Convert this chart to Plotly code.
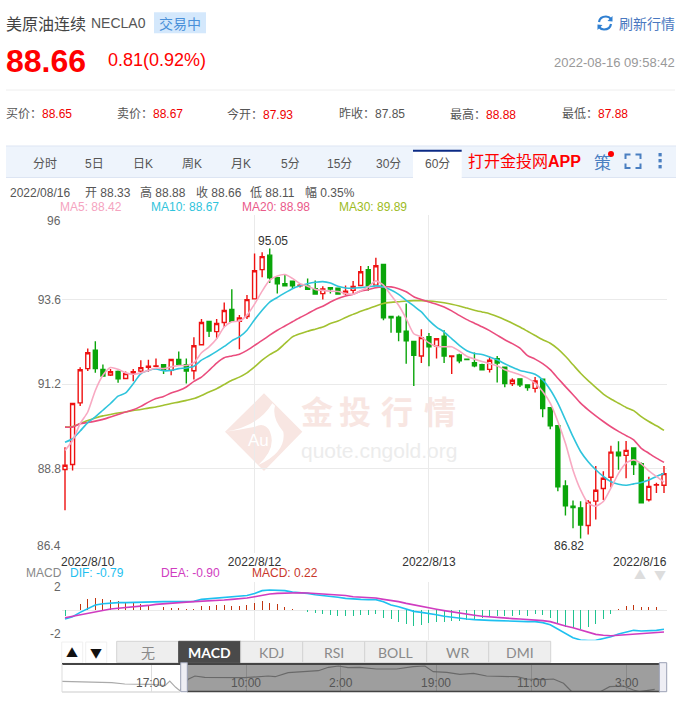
import re
import plotly.graph_objects as go

W, H = 683, 703
# ---------- data ----------
bar_index = list(range(80))
open_ = [88.78,88.92,90.67,91.64,92.16,91.62,91.46,91.56,91.36,91.51,91.57,91.68,91.71,91.75,91.59,91.90,91.75,91.58,92.32,92.98,
         92.69,92.95,93.32,92.98,93.12,93.62,94.45,94.86,94.22,94.05,94.12,93.99,93.98,93.91,93.77,93.94,93.92,93.77,93.86,94.00,
         94.45,94.01,94.60,93.12,93.10,92.70,92.41,92.00,92.55,92.28,92.56,91.98,92.03,91.91,91.81,91.75,91.62,91.92,91.68,91.22,
         91.35,91.18,91.08,91.34,90.53,90.02,88.31,87.74,87.69,87.19,87.88,88.24,88.56,89.27,89.18,89.39,88.94,87.92,88.34,88.33]
high  = [89.41,90.65,91.68,92.21,92.42,91.76,91.63,91.59,91.56,91.63,91.88,91.89,91.93,91.75,91.90,92.13,91.93,92.53,93.05,92.98,
         93.05,93.52,93.89,93.16,93.73,94.91,94.94,95.05,94.22,94.31,94.12,94.05,94.20,94.14,93.98,93.94,93.92,94.00,94.13,94.55,
         94.55,94.79,94.60,93.12,93.15,93.49,92.41,92.76,92.65,92.49,92.73,92.00,92.06,91.91,92.10,91.78,91.98,92.00,91.68,91.37,
         91.35,91.18,91.40,91.34,90.53,90.02,88.47,87.90,87.88,87.91,88.88,88.73,89.45,89.58,89.59,89.39,88.98,88.57,88.40,88.88]
low   = [87.62,88.75,90.58,91.57,91.52,91.43,91.43,91.24,91.36,91.28,91.48,91.55,91.71,91.49,91.45,91.72,91.22,91.33,92.32,92.54,
         92.48,92.82,92.98,92.19,93.05,93.62,94.23,94.07,93.77,93.99,93.91,93.94,93.89,93.76,93.60,93.77,93.76,93.72,93.77,94.00,
         93.85,94.01,93.01,92.66,92.42,91.78,91.15,91.80,91.71,91.93,91.80,91.49,91.79,91.90,91.68,91.61,91.53,91.25,91.11,91.15,
         91.12,91.01,90.96,90.26,89.92,88.16,87.47,87.11,86.82,86.93,87.36,87.91,88.27,88.77,88.53,88.62,87.81,87.87,88.11,88.11]
close = [88.90,90.65,91.61,92.09,91.64,91.43,91.55,91.35,91.50,91.55,91.67,91.71,91.72,91.59,91.90,91.76,91.57,92.29,92.95,92.71,
         92.92,93.29,92.98,93.08,93.60,94.42,94.82,94.22,94.05,93.99,93.99,94.01,93.89,93.76,93.90,93.90,93.76,93.84,93.97,94.39,
         94.00,94.56,93.08,93.08,92.68,92.43,92.02,92.52,92.26,92.49,92.00,92.00,91.86,91.90,91.72,91.61,91.88,91.80,91.22,91.31,
         91.18,91.10,91.29,90.51,90.02,88.29,87.75,87.70,87.20,87.85,88.19,88.53,89.27,89.17,89.32,88.92,87.83,88.30,88.35,88.66]
ma5  = [89.32,89.60,90.08,90.41,91.02,91.45,91.67,91.62,91.52,91.48,91.52,91.59,91.66,91.64,91.69,91.73,91.73,91.81,92.09,92.26,
        92.49,92.82,92.97,92.99,93.16,93.47,93.84,94.15,94.27,94.31,94.20,94.05,93.98,93.89,93.86,93.84,93.83,93.77,93.75,93.85,
        93.96,94.13,94.01,93.72,93.44,93.06,92.63,92.54,92.37,92.27,92.26,92.26,92.14,91.99,91.91,91.84,91.78,91.72,91.61,91.54,
        91.47,91.37,91.23,90.99,90.66,90.14,89.52,88.76,88.20,87.82,87.74,87.87,88.25,88.67,88.96,89.05,88.94,88.74,88.58,88.42]
ma10 = [89.55,89.65,89.87,90.11,90.27,90.46,90.65,90.86,90.95,91.21,91.50,91.59,91.63,91.58,91.59,91.64,91.66,91.71,91.88,92.00,
        92.13,92.27,92.43,92.54,92.73,93.03,93.30,93.53,93.66,93.79,93.91,93.99,94.05,94.09,94.11,94.07,93.98,93.93,93.92,93.94,
        93.96,93.99,93.96,93.87,93.75,93.58,93.42,93.25,93.01,92.82,92.68,92.49,92.30,92.15,92.07,92.04,91.97,91.89,91.78,91.68,
        91.59,91.54,91.48,91.32,91.04,90.66,90.19,89.71,89.29,89.00,88.77,88.58,88.43,88.36,88.33,88.37,88.41,88.48,88.58,88.67]
ma20 = [89.98,89.98,90.08,90.11,90.15,90.20,90.27,90.34,90.41,90.47,90.57,90.69,90.79,90.85,90.95,91.02,91.12,91.28,91.40,91.59,
        91.80,91.95,92.00,92.05,92.16,92.30,92.44,92.59,92.73,92.85,92.97,93.09,93.20,93.32,93.41,93.53,93.63,93.70,93.75,93.84,
        93.88,93.94,93.96,93.96,93.91,93.82,93.68,93.60,93.53,93.47,93.39,93.28,93.15,93.03,92.93,92.83,92.72,92.59,92.46,92.35,
        92.22,92.01,91.91,91.78,91.61,91.37,91.13,90.90,90.66,90.47,90.30,90.14,89.99,89.86,89.74,89.62,89.38,89.24,89.10,88.98]
ma30 = [89.98,90.00,90.08,90.17,90.24,90.30,90.34,90.38,90.41,90.45,90.48,90.52,90.55,90.60,90.65,90.69,90.74,90.79,90.88,90.98,
        91.07,91.19,91.31,91.40,91.52,91.69,91.88,92.04,92.16,92.35,92.54,92.63,92.70,92.76,92.82,92.92,92.99,93.09,93.18,93.27,
        93.34,93.42,93.49,93.52,93.54,93.56,93.57,93.57,93.56,93.54,93.51,93.47,93.42,93.36,93.30,93.25,93.20,93.12,93.03,92.93,
        92.82,92.70,92.58,92.46,92.36,92.20,91.99,91.75,91.51,91.30,91.11,90.92,90.78,90.66,90.54,90.45,90.28,90.14,90.02,89.89]
dif  = [-.60,-.44,-.14,.14,.37,.46,.51,.53,.53,.55,.57,.60,.60,.60,.60,.60,.60,.62,.76,.80,
        .85,.92,.97,.99,1.03,1.17,1.36,1.40,1.38,1.36,1.26,1.22,1.17,1.08,1.03,.99,.90,.83,.78,.76,
        .74,.74,.60,.37,.25,.07,-.07,-.14,-.21,-.30,-.41,-.48,-.57,-.60,-.64,-.69,-.69,-.71,-.74,-.76,
        -.78,-.78,-.78,-.85,-.99,-1.29,-1.59,-1.89,-2.05,-2.09,-2.07,-1.95,-1.82,-1.63,-1.49,-1.38,-1.43,-1.43,-1.38,-1.31]
dea  = [-.51,-.41,-.32,-.21,-.09,.02,.09,.14,.18,.25,.30,.34,.41,.46,.48,.53,.57,.60,.62,.64,
        .67,.71,.76,.80,.85,.94,1.06,1.13,1.17,1.20,1.22,1.22,1.20,1.17,1.15,1.13,1.10,1.03,.94,.92,
        .87,.85,.76,.69,.60,.48,.37,.25,.16,.07,-.02,-.11,-.21,-.28,-.34,-.41,-.46,-.48,-.53,-.57,
        -.60,-.62,-.67,-.71,-.78,-.94,-1.08,-1.20,-1.36,-1.54,-1.66,-1.72,-1.75,-1.72,-1.68,-1.63,-1.61,-1.56,-1.52,-1.49]
macd = [-.37,0,.41,.76,.83,.78,.74,.64,.57,.53,.44,.39,.37,.23,.18,.14,.07,.09,.28,.30,
        .34,.39,.32,.32,.34,.48,.62,.53,.41,.23,.09,0,-.11,-.18,-.25,-.30,-.37,-.41,-.39,-.34,
        -.34,-.25,-.51,-.62,-.78,-.94,-1.06,-.99,-.87,-.83,-.78,-.74,-.71,-.67,-.62,-.55,-.44,-.41,-.37,-.37,
        -.34,-.37,-.28,-.34,-.53,-.92,-1.17,-1.24,-1.31,-1.17,-.94,-.62,-.23,.07,.30,.37,.21,.21,.21,.32]
nav_x = [-21.2,-18.9,-15.5,-12.7,-10.5,-8.5,-6.0,-3.7,-2.9,-1.9,-1.2,0.2,1.35,3.0,5.9,9.8,13.7,14.9,17.1,19.9,22.2,23.9,25.6,27.2,29.2,
         32.0,35.4,38.2,40.2,41.6,43.9,46.1,48.4,50.6,53.4,55.7,57.4,60.2,61.9,63.6,65.0,69.8,71.4,73.7,75.4,76.5,79.0]
nav_y = [89.75,89.6,89.4,89.26,88.8,88.8,88.7,88.2,89.85,87.65,86.45,90.45,91.6,91.15,91.0,91.0,91.6,91.35,92.75,93.0,93.45,94.65,95.1,94.5,94.65,
         94.05,94.05,94.85,95.1,93.1,92.9,92.2,92.55,91.6,91.35,91.35,90.55,90.3,90.55,89.05,86.1,86.1,87.85,88.1,86.7,86.1,86.95]
nav_tick_x = [-6.0,10.05,26.0,42.1,58.2,74.3]
nav_tick_labels = ["17:00","10:00","2:00","19:00","11:00","3:00"]
price_ticks = [88.8,91.2,93.6]
date_tick_x = [25,48]
date_tick_labels = ["2022/8/12","2022/8/13"]
periods = ["分时","5日","日K","周K","月K","5分","15分","30分","60分"]
period_x = [45,94,143,192,241,290,339,388,437]
indicators = ["无","MACD","KDJ","RSI","BOLL","WR","DMI"]
quotes = [("买价：","88.65","#f00000",6),("卖价：","88.67","#f00000",117),("今开：","87.93","#f00000",227.5),
          ("昨收：","87.85","#555555",339.5),("最高：","88.88","#f00000",450.5),("最低：","87.88","#f00000",562)]
stats = [("2022/08/16",10.5),("开 88.33",85),("高 88.88",140),("收 88.66",196),("低 88.11",250.5),("幅 0.35%",305.5)]
assert all(len(a)==80 for a in (open_,high,low,close,ma5,ma10,ma20,ma30,dif,dea,macd))
assert len(nav_x)==len(nav_y)

# ---------- layout helpers (pixels -> paper) ----------
FONT = "Liberation Sans, Arial, Noto Sans CJK SC, sans-serif"
CJK = "Noto Sans CJK SC, sans-serif"
def X(p): return p/W
def Y(p): return 1-p/H
def dom(a,b): return [X(a),X(b)]
anns, shapes = [], []
def T(text,x,y,size=12,color="#555555",anchor="left",font=FONT):
    inset = {"left":-1.2,"right":1.2,"center":0}[anchor]
    anns.append(dict(text=text,x=X(x+inset),y=Y(y),xref="paper",yref="paper",xanchor=anchor,yanchor="middle",
                     showarrow=False,borderpad=0,font=dict(size=size,color=color,family=font)))
def R(x0,y0,x1,y1,fill=None,line=None,lw=1,layer="below"):
    shapes.append(dict(type="rect",xref="paper",yref="paper",x0=X(x0),x1=X(x1),y0=Y(y0),y1=Y(y1),
                       fillcolor=fill or "rgba(0,0,0,0)",line=dict(color=line or "rgba(0,0,0,0)",width=lw if line else 0),layer=layer))
def L(x0,y0,x1,y1,color,lw=1,layer="below"):
    shapes.append(dict(type="line",xref="paper",yref="paper",x0=X(x0),x1=X(x1),y0=Y(y0),y1=Y(y1),
                       line=dict(color=color,width=lw),layer=layer))
def P(d,fill=None,line=None,lw=1,layer="below"):
    d2 = re.sub(r"(-?\d+\.?\d*),(-?\d+\.?\d*)", lambda m: f"{X(float(m[1])):.5f},{Y(float(m[2])):.5f}", d)
    shapes.append(dict(type="path",xref="paper",yref="paper",path=d2,fillcolor=fill or "rgba(0,0,0,0)",
                       line=dict(color=line or "rgba(0,0,0,0)",width=lw if line else 0),layer=layer))

# ---------- header ----------
T("美原油连续",6,23,16,"#444444",font=CJK)
T("NECLA0",91.5,23,14,"#555555")
R(154,12.3,206,33.3,"#d4e8fc")
T("交易中",180,23,14,"#4a90d9","center",CJK)
T("<b>88.66</b>",6,60.5,32,"#ff0000")
T("0.81(0.92%)",108,60,18,"#ff0000")
T("2022-08-16 09:58:42",675,62.5,13,"#999999","right")
T("刷新行情",619,23,14,"#4a78c0",font=CJK)
P("M 599,22 Q 600,16.5 606,16.5 Q 609,16.5 611,19",None,"#2f7fd1",2.2,"above")
P("M 611,24 Q 610,29.5 604,29.5 Q 601,29.5 599,27",None,"#2f7fd1",2.2,"above")
P("M 612.5,16 L 612.5,21.5 L 607.5,21 Z","#2f7fd1",layer="above")
P("M 597.5,30 L 597.5,24.5 L 602.5,25 Z","#2f7fd1",layer="above")
L(6,90,675,90,"#eeeeee")
for lab,val,col,x in quotes:
    T(f'{lab}<span style="color:{col}">{val}</span>',x,114,12,"#555555",font=FONT)

# ---------- toolbar ----------
R(6,146,676,177,"#eef4fc")
L(6,146,676,146,"#dde5f3")
L(6,177.5,676,177.5,"#dde5f3")
R(413,150,461.7,178,"#ffffff")
L(413,150.7,461.7,150.7,"#0b2a85",2)
for t,x in zip(periods,period_x):
    T(t,x,164,12,"#555555","center")
T("打开金投网<b>APP</b>",468,161.5,16,"#ff0000",font=FONT)
T("策",602,162,17,"#4a7fc1","center",CJK)
shapes.append(dict(type="circle",xref="paper",yref="paper",x0=X(608),x1=X(614),y0=Y(157),y1=Y(151),fillcolor="#ff0000",line=dict(width=0)))
for d in ("M 625.5,159 L 625.5,154.5 L 630.5,154.5","M 635.5,154.5 L 640.5,154.5 L 640.5,159",
          "M 625.5,163.5 L 625.5,168 L 630.5,168","M 635.5,168 L 640.5,168 L 640.5,163.5"):
    P(d,None,"#4a7fc1",2)
for y in (154.7,160.7,166.7):
    R(658.5,y-1.7,661.7,y+1.7,"#4a7fc1")

# ---------- info rows ----------
for t,x in stats:
    T(t,x,192.5,12,"#555555")
T("MA5: 88.42",60.5,207,12,"#f5a3c0")
T("MA10: 88.67",151.5,207,12,"#2fc4dc")
T("MA20: 88.98",242.5,207,12,"#ea5a8a")
T("MA30: 89.89",339.5,207,12,"#9dbb1d")

# ---------- watermark ----------
P("M 264,393.3 L 302.3,431.7 L 264,471 L 225,431.7 Z","#f8e6e2")
P("M 225,431.7 Q 258.3,426.7 272.3,403.3 L 275,405.7 Q 271.7,418.3 283.3,431.7 Q 286.7,451.7 258.3,465 "
  "Q 276.7,448.3 270,431.7 Q 265,421.7 255,426.7 Q 238.3,430 225,431.7 Z","#ffffff")
T("Au",258,440,17,"#ffffff","center")
for ch,x in zip("金投行情",(316.7,355,396.7,440)):
    T(f"<b>{ch}</b>",x,410,32,"#f8e6e2","center",CJK)
T("quote.cngold.org",379,451,21,"#ececec","center")

# ---------- axis labels needing inset placement ----------
T("96",61,221,12,"#666666","right")
T("86.4",61,546,12,"#666666","right")
T("2022/8/10",61,561.5,12,"#333333")
T("2022/8/16",667,561.5,12,"#333333","right")
T("2",61,586.7,12,"#666666","right")
T("-2",61,633.5,12,"#666666","right")
T("MACD",26,572.7,12,"#888888")
T("DIF: -0.79",70,572.7,12,"#1ec0f0")
T("DEA: -0.90",161,572.7,12,"#d03cc0")
T("MACD: 0.22",251.7,572.7,12,"#c8372a")
T("▲",640,574,12,"#dddddd","center",CJK)
T("▼",660,574,12,"#dddddd","center",CJK)

# ---------- indicator buttons ----------
R(61.7,642,82.7,663,"#ffffff","#f0f0f0")
R(85.7,642,106.7,663,"#ffffff","#f0f0f0")
T("▲",72,652.5,12,"#111111","center",CJK)
T("▼",96,652.5,12,"#111111","center",CJK)
bx = 116.7
for name in indicators:
    active = name=="MACD"
    R(bx,641.3,bx+62,662.7,"#4a4a4a" if active else "#eeeeee","#4a4a4a" if active else "#d4d4d4")
    T(f"<b>{name}</b>" if active else name,bx+31,652,14,"#ffffff" if active else "#8a8a8a","center","Lato, "+CJK)
    bx += 62

# ---------- navigator ----------
R(187,664,660,691,"rgba(0,0,0,0.38)",layer="above")
L(62,664,660,664,"#444444",2,"above")
L(187,691.5,660,691.5,"#444444",1.5,"above")
L(62,692,180,692,"#dddddd",1.5,"above")
L(62,664,62,692,"#dddddd",1,"above")
R(180.7,662.7,187.3,691.7,"#eeeef4","#9aa0b4",1,"above")
R(659.3,662.7,666.7,691.7,"#eeeef4","#9aa0b4",1,"above")
for lab,x in zip(nav_tick_labels,nav_tick_x):
    anns.append(dict(text=lab,x=x,y=Y(682.7),xref="x3",yref="paper",xanchor="center",yanchor="middle",showarrow=False,
                     font=dict(size=12,color="#555555",family=FONT)))

# ---------- extreme labels ----------
anns.append(dict(text="95.05",x=27,y=95.05,xref="x",yref="y",xanchor="center",yanchor="middle",xshift=3.5,yshift=7,showarrow=False,
                 font=dict(size=12,color="#333333",family=FONT)))
anns.append(dict(text="86.82",x=68,y=86.82,xref="x",yref="y",xanchor="center",yanchor="middle",xshift=-12,yshift=-7,showarrow=False,
                 font=dict(size=12,color="#333333",family=FONT)))

# ---------- traces ----------
fig = go.Figure()
fig.add_trace(go.Candlestick(x=bar_index,open=open_,high=high,low=low,close=close,xaxis="x",yaxis="y",hoverinfo="skip",whiskerwidth=0,
    increasing=dict(line=dict(color="#ee1111",width=1.4),fillcolor="#ffffff"),
    decreasing=dict(line=dict(color="#0aa50a",width=1.4),fillcolor="#0aa50a")))
for name,vals,col in (("MA30",ma30,"#a2c130"),("MA20",ma20,"#ea4d7e"),("MA10",ma10,"#2fc4dc"),("MA5",ma5,"#f8a9c2")):
    fig.add_trace(go.Scatter(x=bar_index,y=vals,mode="lines",name=name,xaxis="x",yaxis="y",hoverinfo="skip",
                             line=dict(color=col,width=1.6,shape="spline",smoothing=0.6)))
fig.add_trace(go.Bar(x=bar_index,y=macd,xaxis="x2",yaxis="y2",width=0.13,hoverinfo="skip",
                     marker=dict(color=["#c0340f" if v>=0 else "#1fc38f" for v in macd],line=dict(width=0))))
fig.add_trace(go.Scatter(x=bar_index,y=dif,mode="lines",name="DIF",xaxis="x2",yaxis="y2",hoverinfo="skip",cliponaxis=False,
                         line=dict(color="#1ec0f0",width=1.6)))
fig.add_trace(go.Scatter(x=bar_index,y=dea,mode="lines",name="DEA",xaxis="x2",yaxis="y2",hoverinfo="skip",cliponaxis=False,
                         line=dict(color="#d03cc0",width=1.6)))
fig.add_trace(go.Scatter(x=nav_x,y=nav_y,mode="lines",name="overview",xaxis="x3",yaxis="y3",hoverinfo="skip",
                         line=dict(color="#aaaaaa",width=1.2)))

GRID = "#eaeaea"
xr = [-0.396,79.396]
axis_common = dict(showline=False,zeroline=False,ticks="",fixedrange=True)
fig.update_layout(
    width=W,height=H,margin=dict(l=0,r=0,t=0,b=0),autosize=False,
    paper_bgcolor="#ffffff",plot_bgcolor="rgba(0,0,0,0)",showlegend=False,boxgap=0.25,bargap=0,
    font=dict(family=FONT,size=12,color="#666666"),
    xaxis=dict(domain=dom(62,667),range=xr,anchor="y",tickvals=date_tick_x,ticktext=date_tick_labels,showgrid=True,gridcolor=GRID,
               rangeslider=dict(visible=False),tickfont=dict(size=12,color="#333333"),ticklabelstandoff=0,**axis_common),
    yaxis=dict(domain=[Y(553.3),Y(215)],range=[86.4,96],anchor="x",tickmode="array",
               tickvals=[86.4,88.8,91.2,93.6,96],ticktext=["",*[f"{v}" for v in price_ticks],""],showgrid=True,gridcolor=GRID,
               tickfont=dict(size=12,color="#666666"),**axis_common),
    xaxis2=dict(domain=dom(62,667),range=xr,anchor="y2",tickvals=date_tick_x,showticklabels=False,showgrid=True,gridcolor=GRID,**axis_common),
    yaxis2=dict(domain=[Y(640.33),Y(581.67)],range=[-2.07,1.98],anchor="x2",tickvals=[-2.07,0,1.98],showticklabels=False,showgrid=True,gridcolor=GRID,**axis_common),
    xaxis3=dict(domain=dom(62,667),range=[-21.1,81.08],anchor="y3",tickvals=nav_tick_x,showticklabels=False,showgrid=True,gridcolor="#dddddd",**axis_common),
    yaxis3=dict(domain=[Y(692),Y(664)],range=[86,95.8],anchor="x3",showticklabels=False,showgrid=False,**axis_common),
    annotations=anns,shapes=shapes,
)
fig.write_html("out.html",config={"displayModeBar":False,"staticPlot":True},
               post_script="document.body.style.margin='0';document.body.style.overflow='hidden';")
